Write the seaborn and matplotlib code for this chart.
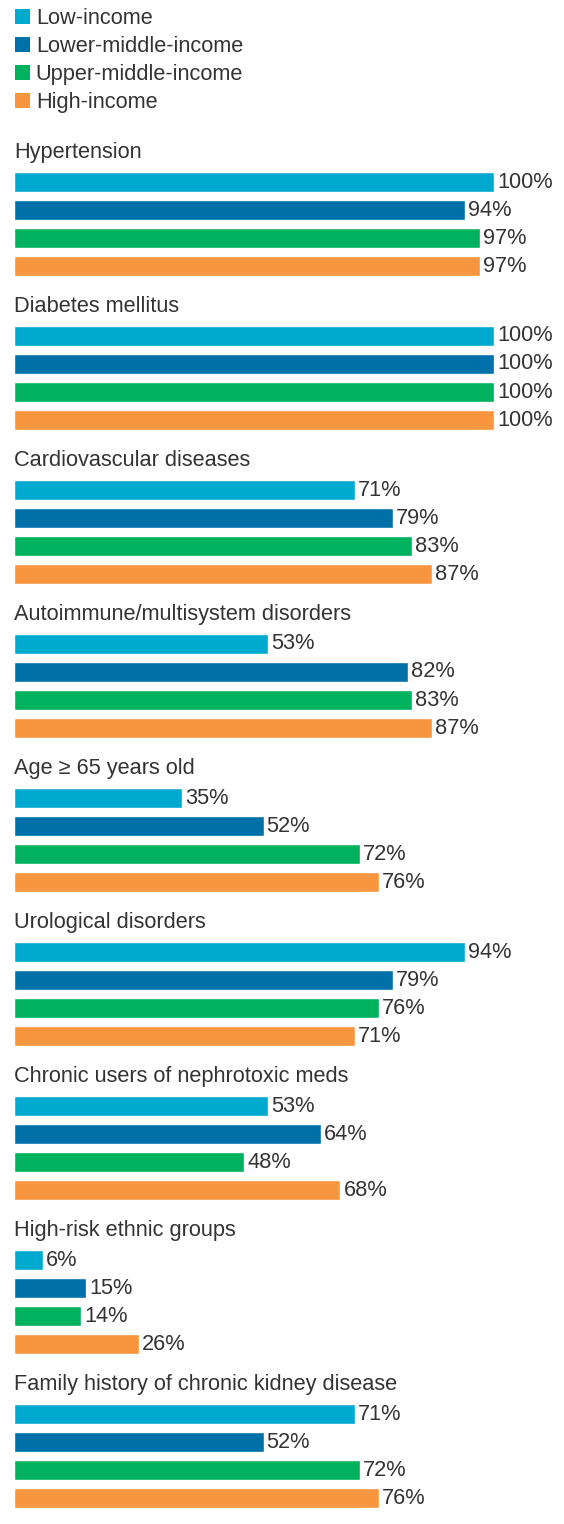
import pandas as pd
import matplotlib
matplotlib.use('Agg')
import matplotlib.pyplot as plt
import seaborn as sns
from matplotlib.patches import Patch

# dados
grupos = ['Low-income', 'Lower-middle-income', 'Upper-middle-income', 'High-income']
cores = ['#00A9CE', '#0070A8', '#00B15D', '#F7963F']

fatores = ['Hypertension', 'Diabetes mellitus', 'Cardiovascular diseases',
           'Autoimmune/multisystem disorders', 'Age \u2265 65 years old',
           'Urological disorders', 'Chronic users of nephrotoxic meds',
           'High-risk ethnic groups', 'Family history of chronic kidney disease']

low_income = [100, 100, 71, 53, 35, 94, 53, 6, 71]
lower_middle = [94, 100, 79, 82, 52, 79, 64, 15, 52]
upper_middle = [97, 100, 83, 83, 72, 76, 48, 14, 72]
high_income = [97, 100, 87, 87, 76, 71, 68, 26, 76]

series = [low_income, lower_middle, upper_middle, high_income]
linhas = []
for g, vals in zip(grupos, series):
    for f, v in zip(fatores, vals):
        linhas.append({'fator': f, 'grupo': g, 'valor': v})
df = pd.DataFrame(linhas)

sns.set_theme(style='white')
plt.rcParams['font.family'] = ['Liberation Sans', 'DejaVu Sans']
texto_cor = '#333333'
fs = 15.7

W, H = 564, 1524
fig = plt.figure(figsize=(W / 100, H / 100), dpi=100)

# posicoes em pixels
x0, x1 = 14, 494
passo_grupo = 154
for k, fator in enumerate(fatores):
    topo = 168 + passo_grupo * k
    ax = fig.add_axes([x0 / W, 1 - (topo + 112) / H, (x1 - x0) / W, 112 / H])
    sub = df[df['fator'] == fator]
    sns.barplot(data=sub, y='grupo', x='valor', hue='grupo', order=grupos,
                hue_order=grupos, palette=cores, width=20 / 28, legend=False,
                saturation=1, ax=ax)
    ax.set_xlim(0, 100)
    ax.set_ylim(3.5, -0.5)
    ax.axis('off')
    for c in ax.containers:
        ax.bar_label(c, labels=[f'{int(v)}%' for v in c.datavalues],
                     padding=2.2, fontsize=fs, color=texto_cor)
    # titulo do grupo (linha de base)
    fig.text(x0 / W, 1 - (158 + passo_grupo * k) / H, fator, fontsize=fs,
             color=texto_cor, va='baseline', ha='left')

# legenda
handles = [Patch(facecolor=c, edgecolor='none') for c in cores]
fig.legend(handles, grupos, loc='upper left', bbox_to_anchor=(14.5 / W, 1 - 8 / H),
           frameon=False, fontsize=fs, handlelength=0.7, handleheight=0.7,
           handletextpad=0.28, labelspacing=0.32, borderpad=0, borderaxespad=0,
           labelcolor=texto_cor)

fig.savefig('out.png', dpi=100)
